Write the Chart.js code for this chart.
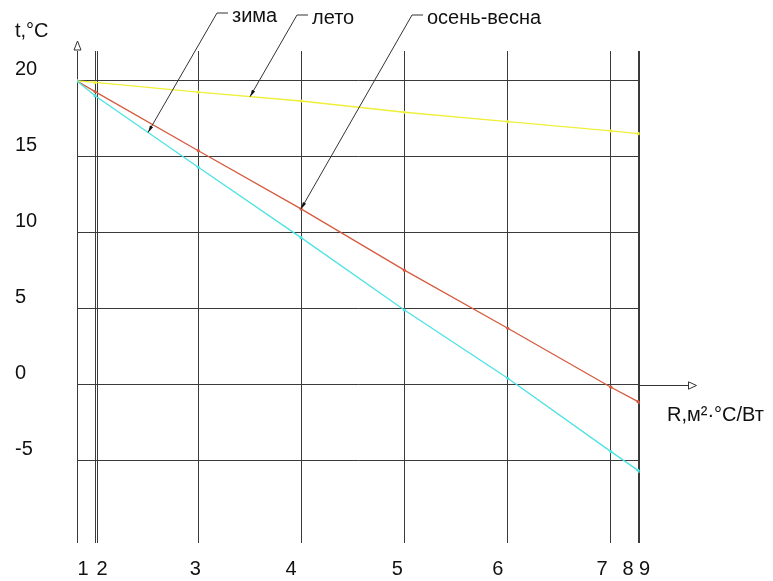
<!DOCTYPE html>
<html>
<head>
<meta charset="utf-8">
<script src="https://cdn.jsdelivr.net/npm/chart.js@4.4.1/dist/chart.umd.min.js"></script>
<style>
  html, body { margin: 0; padding: 0; background: #fff; }
  #wrap { width: 773px; height: 581px; }
</style>
</head>
<body>
<div id="wrap"><canvas id="tempChart" width="773" height="581"></canvas></div>
<script>
// layer boundaries 1..9 along R (thermal resistance)
const boundaryLabels = ["1", "2", "3", "4", "5", "6", "7", "8", "9"];
const boundaryR = [0, 0.175, 1.178, 2.175, 3.178, 4.182, 5.184, 5.447, 5.461];
const extraGridR = [0.2]; // second stroke of the double line at 2
const tempTicks = [20, 15, 10, 5, 0, -5];

// temperature at each boundary, °C
const winter = [20, 19.03, 14.32, 9.69, 4.93, 0.44, -4.39, -5.62, -5.70];
const summer = [20, 19.90, 19.26, 18.68, 17.94, 17.32, 16.71, 16.54, 16.53];
const autumnSpring = [20, 19.30, 15.41, 11.58, 7.55, 3.73, -0.15, -1.10, -1.16];

const seriesNames = ["зима", "лето", "осень-весна"];
const leaderR = [0.69, 1.68, 2.175]; // where each leader arrow touches its line

const FONT = '"Liberation Sans", Arial, sans-serif';

function toPoints(vals) {
  return boundaryR.map((r, i) => ({ x: r, y: vals[i] }));
}

function valueAt(vals, r) {
  for (let i = 1; i < boundaryR.length; i++) {
    if (r <= boundaryR[i]) {
      const f = (r - boundaryR[i - 1]) / (boundaryR[i] - boundaryR[i - 1]);
      return vals[i - 1] + f * (vals[i] - vals[i - 1]);
    }
  }
  return vals[vals.length - 1];
}

const decorations = {
  id: "decorations",
  afterDraw(chart) {
    const { ctx, chartArea: a, scales: { x, y } } = chart;
    ctx.save();
    ctx.strokeStyle = "#333";
    ctx.fillStyle = "#111";
    ctx.lineWidth = 1;

    // y axis arrow (hollow)
    const ax = Math.round(x.getPixelForValue(0)) + 0.5;
    ctx.beginPath();
    ctx.moveTo(ax, a.top - 10);
    ctx.lineTo(ax - 3.5, a.top - 1);
    ctx.lineTo(ax + 3.5, a.top - 1);
    ctx.closePath();
    ctx.stroke();

    // x axis runs past the grid to an arrow
    const y0 = Math.round(y.getPixelForValue(0)) + 0.5;
    ctx.beginPath();
    ctx.moveTo(a.right, y0);
    ctx.lineTo(a.right + 49, y0);
    ctx.stroke();
    ctx.beginPath();
    ctx.moveTo(a.right + 57, y0);
    ctx.lineTo(a.right + 49, y0 - 3.7);
    ctx.lineTo(a.right + 49, y0 + 3.7);
    ctx.closePath();
    ctx.stroke();

    ctx.font = "20px " + FONT;
    ctx.textBaseline = "middle";
    ctx.textAlign = "left";
    ctx.fillText("t,°C", 15, 31);
    ctx.fillText("R,м²·°C/Вт", 667, y0 + 30);

    // boundary numbers under the grid
    const shift = [6, 7, -3, -10, -7, -10, -9, -10, 5];
    ctx.textAlign = "center";
    boundaryR.forEach((r, i) => {
      ctx.fillText(boundaryLabels[i], x.getPixelForValue(r) + shift[i], a.bottom + 26);
    });

    // leaders with names
    const textPos = [[232, 16], [312, 18], [427, 18]];
    ctx.textAlign = "left";
    chart.data.datasets.forEach((ds, i) => {
      const vals = ds.data.map(p => p.y);
      const tx = x.getPixelForValue(leaderR[i]);
      const ty = y.getPixelForValue(valueAt(vals, leaderR[i]));
      const [lx, ly] = textPos[i];
      const kx = lx - 15, ky = ly - 3;
      ctx.beginPath();
      ctx.moveTo(lx - 4, ky);
      ctx.lineTo(kx, ky);
      ctx.lineTo(tx, ty);
      ctx.stroke();
      const ang = Math.atan2(ty - ky, tx - kx);
      ctx.beginPath();
      ctx.moveTo(tx, ty);
      ctx.lineTo(tx - 7 * Math.cos(ang) + 1.8 * Math.sin(ang), ty - 7 * Math.sin(ang) - 1.8 * Math.cos(ang));
      ctx.lineTo(tx - 7 * Math.cos(ang) - 1.8 * Math.sin(ang), ty - 7 * Math.sin(ang) + 1.8 * Math.cos(ang));
      ctx.closePath();
      ctx.fill();
      ctx.fillText(seriesNames[i], lx, ly);
    });
    ctx.restore();
  }
};

const lineStyle = (color) => ({
  borderColor: color,
  backgroundColor: color,
  borderWidth: 1.3,
  pointRadius: 1.6,
  pointBorderWidth: 0,
  tension: 0,
  fill: false
});

new Chart(document.getElementById("tempChart"), {
  type: "line",
  data: {
    datasets: [
      { label: seriesNames[0], data: toPoints(winter), ...lineStyle("#4ee2e2") },
      { label: seriesNames[1], data: toPoints(summer), ...lineStyle("#efef3a") },
      { label: seriesNames[2], data: toPoints(autumnSpring), ...lineStyle("#d65b3e") }
    ]
  },
  options: {
    responsive: false,
    animation: false,
    devicePixelRatio: 1,
    layout: { padding: { left: 15, right: 133.5, top: 51, bottom: 38 } },
    plugins: { legend: { display: false }, tooltip: { enabled: false } },
    scales: {
      x: {
        type: "linear",
        min: 0,
        max: 5.461,
        afterBuildTicks: s => { s.ticks = boundaryR.concat(extraGridR).map(v => ({ value: v })); },
        afterFit: s => { s.height = 0; },
        ticks: { display: false },
        grid: { color: "#3a3a3a", lineWidth: 1, drawTicks: false },
        border: { display: false }
      },
      y: {
        type: "linear",
        min: -10.4,
        max: 21.97,
        afterBuildTicks: s => { s.ticks = tempTicks.map(v => ({ value: v })); },
        afterFit: s => { s.width = 62; },
        ticks: {
          font: { family: FONT, size: 20 },
          color: "#111",
          crossAlign: "far",
          labelOffset: -11,
          padding: 0
        },
        grid: { color: "#3a3a3a", lineWidth: 1, drawTicks: false },
        border: { display: false }
      }
    }
  },
  plugins: [decorations]
});
</script>
</body>
</html>
